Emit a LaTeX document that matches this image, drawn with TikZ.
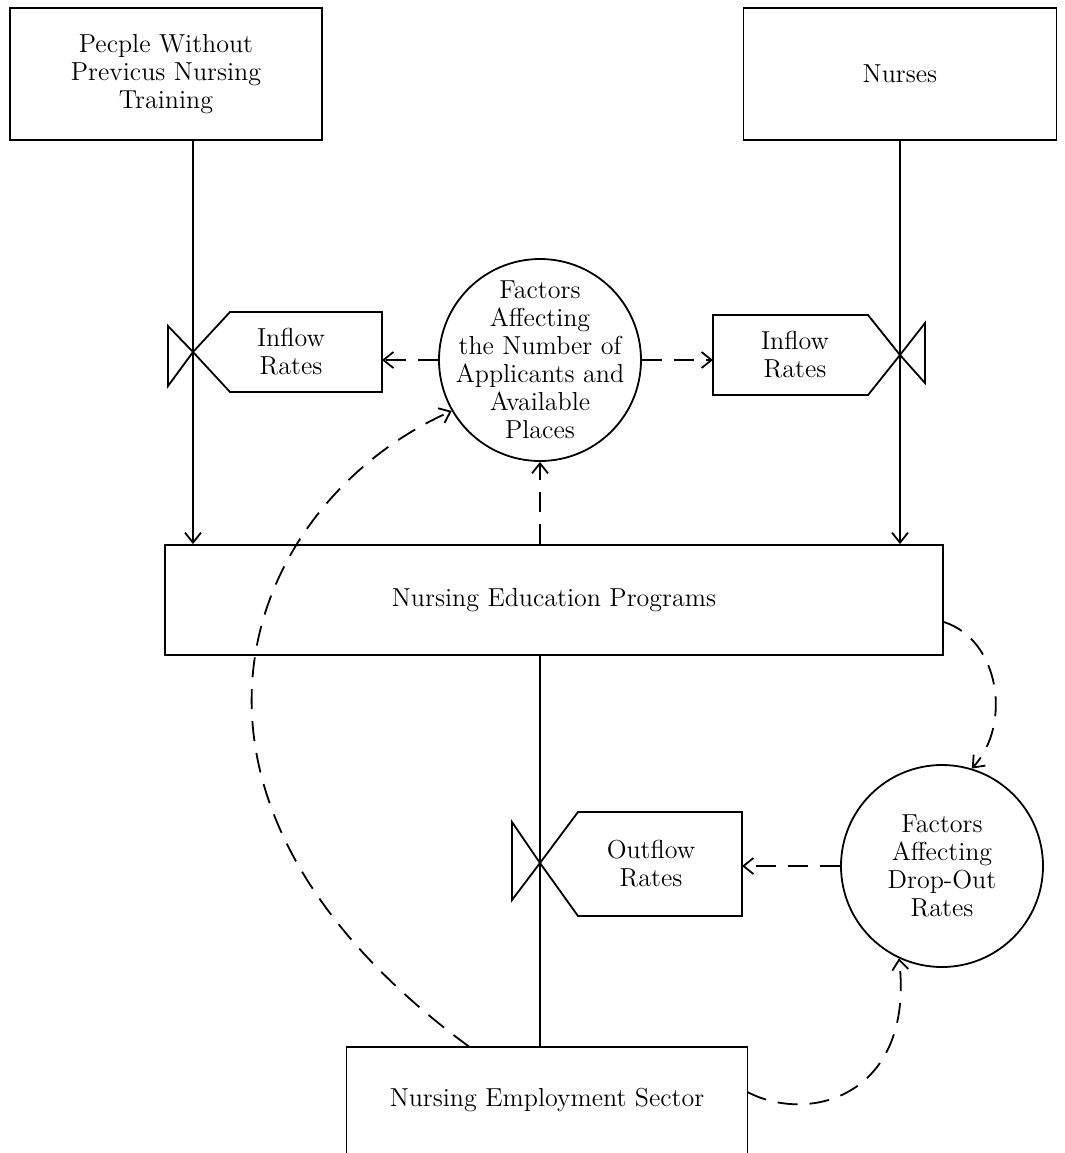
\documentclass[tikz,border=0pt]{standalone}
\usepackage{tikz}
\usetikzlibrary{arrows.meta}
\usepackage{xcolor}

\begin{document}
\begin{tikzpicture}[x=0.5pt,y=-0.5pt,line width=0.9pt,
  >={Straight Barb[length=5pt,width=8pt]},
  every node/.style={font=\fontsize{13}{14}\selectfont,align=center},
  stock/.style={draw,rectangle,inner sep=0pt},
  factor/.style={draw,circle,minimum size=101pt,inner sep=0pt},
  tagtext/.style={inner sep=0pt,outer sep=0pt},
  fb/.style={->,dash pattern=on 10pt off 6pt}]
  \useasboundingbox (0,0) rectangle (1065,1153);

  % levels
  \node[stock,minimum width=156pt,minimum height=66pt] (peop) at (166,74) {Pecple Without\\Previcus Nursing\\Training};
  \node[stock,minimum width=156.5pt,minimum height=66pt] (nurs) at (900,74) {Nurses};
  \node[stock,minimum width=389pt,minimum height=55pt] (edu) at (554,600) {Nursing Education Programs};
  \node[minimum width=200.5pt,minimum height=53pt,outer sep=0pt] (emp) at (547,1100) {Nursing Employment Sector};
  \draw (emp.south west) -- (emp.north west) -- (emp.north east) -- (emp.south east);

  % flows
  \coordinate (vL) at (193,352);
  \coordinate (vR) at (900,355);
  \coordinate (vO) at (540,863);
  \draw[->] (vL |- peop.south) -- (vL |- edu.north);
  \draw[->] (vR |- nurs.south) -- (vR |- edu.north);
  \draw (vO |- edu.south) -- (vO |- emp.north);

  % rates
  \node[tagtext,minimum width=91pt,minimum height=40pt] (inL) at (291,352) {Inflow\\Rates};
  \draw (vL) -- (230,312) -- (inL.north east) -- (inL.south east) -- (230,392) -- cycle;
  \draw (vL) -- (168,326) -- (168,386) -- cycle;
  \node[tagtext,minimum width=82pt,minimum height=40pt] (inR) at (795,355) {Inflow\\Rates};
  \draw (vR) -- (868,315) -- (inR.north west) -- (inR.south west) -- (868,395) -- cycle;
  \draw (vR) -- (925,323) -- (925,383) -- cycle;
  \node[tagtext,minimum width=91pt,minimum height=52pt] (outR) at (651,864) {Outflow\\Rates};
  \draw (vO) -- (578,812) -- (outR.north east) -- (outR.south east) -- (578,916) -- cycle;
  \draw (vO) -- (512,822) -- (512,900) -- cycle;

  % auxiliaries
  \node[factor] (cA) at (540,360) {};
  \node (cAtxt) at (cA) {Factors\\Affecting\\the Number of\\Applicants and\\Available\\Places};
  \node[factor] (cB) at (942,866) {};
  \node (cBtxt) at (cB) {Factors\\Affecting\\Drop-Out\\Rates};

  % information links
  \draw[fb] (cA.west) -- (cA.west -| inL.east);
  \draw[fb] (cA.east) -- (cA.east -| inR.west);
  \draw[fb] (cA |- edu.north) -- (cA.south);
  \draw[fb] (cB.west) -- (cB.west -| outR.east);
  \draw[fb] ([xshift=61.5pt]emp.north west) .. controls (120,790) and (250,500) .. (cA.210);
  \draw[fb] ([yshift=-11pt]edu.east) .. controls (1000,640) and (1012,725) .. (cB.73);
  \draw[fb] ([yshift=4pt]emp.east) .. controls (810,1125) and (915,1095) .. (cB.245);
\end{tikzpicture}
\end{document}
